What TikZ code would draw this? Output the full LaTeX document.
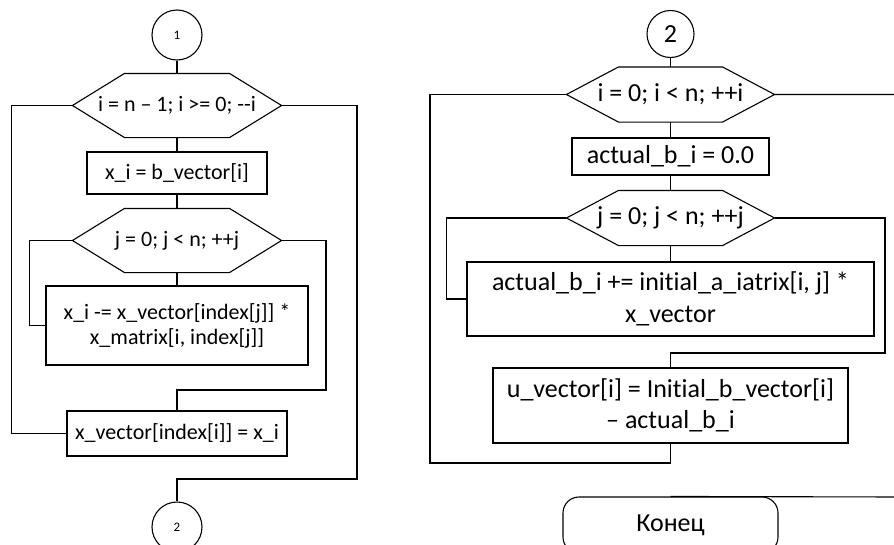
\documentclass[tikz,border=0pt]{standalone}
\usepackage{fontspec}
\setmainfont{Carlito}[Ligatures=NoCommon]
\usetikzlibrary{calc}

% hexagon (loop head) drawn round a named node
\newcommand{\hexfrm}[1]{\draw (#1.west) -- ($(#1.north west)+(52,0)$) -- ($(#1.north east)-(52,0)$)
  -- (#1.east) -- ($(#1.south east)-(52,0)$) -- ($(#1.south west)+(52,0)$) -- cycle;}

\begin{document}
\begin{tikzpicture}[x=1pt,y=-1pt,line width=1.1pt,
                every node/.style={font=\fontsize{22}{25}\selectfont,align=center,inner sep=0pt},
                big/.style={font=\fontsize{26}{31.5}\selectfont},
                proc/.style={draw,rectangle},
                cycl/.style={rectangle,minimum width=208pt,minimum height=#1},
                conn/.style={draw,circle,minimum size=#1},
                term/.style={draw,rectangle,rounded corners=16pt,minimum width=215pt,minimum height=56pt}]
  \useasboundingbox (0,0) rectangle (894,544);
  \clip (0,0) rectangle (894,544);

  % left part
  \node[conn=50pt,font=\fontsize{13}{15}\selectfont] (c1) at (177,35) {1};
  \node[cycl=63pt] (h1) at (177,105.5) {i = n \textendash{} 1; i >= 0; -{}-i};
  \node[proc,minimum width=180pt,minimum height=42pt] (b1) at (177,173) {x\_i = b\_vector[i]};
  \node[cycl=63pt] (h2) at (177,240.5) {j = 0; j < n; ++j};
  \node[proc,minimum width=262pt,minimum height=79pt] (b2) at (177,325.5)
        {x\_i -= x\_vector[index[j]] *\\x\_matrix[i, index[j]]};
  \node[proc,minimum width=220pt,minimum height=45pt] (b3) at (177,433.5) {x\_vector[index[i]] = x\_i};
  \node[conn=50pt,font=\fontsize{13}{15}\selectfont] (c2) at (177,527) {2};
  \hexfrm{h1}
  \hexfrm{h2}

  \coordinate (j1) at (326,390);
  \coordinate (j2) at (357,479);
  \draw (c1) -- (h1);
  \draw (h1) -- (b1);
  \draw (b1) -- (h2);
  \draw (h2) -- (b2);
  \draw (h2.west) -- ++(-43,0) |- (b2.west);
  \draw (h2.east) -| (j1) -| (b3.north);
  \draw (h1.west) -- ++(-61,0) |- (b3.west);
  \draw (h1.east) -| (j2) -| (c2.north);

  % right part
  \node[conn=47pt,big] (c3) at (670.5,34) {2};
  \node[cycl=54pt,minimum width=207pt,big] (h3) at (670.5,94.5) {i = 0; i < n; ++i};
  \node[proc,minimum width=197pt,minimum height=37pt,big] (b4) at (670.5,156.5) {actual\_b\_i = 0.0};
  \node[cycl=54pt,minimum width=207pt,big] (h4) at (670.5,218) {j = 0; j < n; ++j};
  \node[proc,minimum width=407pt,minimum height=74pt,big] (b5) at (670.5,299)
        {actual\_b\_i += initial\_a\_iatrix[i, j] *\\x\_vector};
  \node[proc,minimum width=355pt,minimum height=75pt,big] (b6) at (670.5,405.5)
        {u\_vector[i] = Initial\_b\_vector[i]\\\textendash{} actual\_b\_i};
  \node[term,big] (end) at (670.5,525) {Конец};
  \hexfrm{h3}
  \hexfrm{h4}

  \coordinate (j3) at (885,353);
  \coordinate (j4) at (430,463);
  \coordinate (j5) at (900,497);
  \draw (c3) -- (h3);
  \draw (h3) -- (b4);
  \draw (b4) -- (h4);
  \draw (h4) -- (b5);
  \draw (h4.west) -- ++(-120,0) |- (b5.west);
  \draw (h4.east) -| (j3) -| (b6.north);
  \draw (h3.west) -| (j4) -| (b6.south);
  \draw (h3.east) -| (j5) -- (end.north);
\end{tikzpicture}
\end{document}
